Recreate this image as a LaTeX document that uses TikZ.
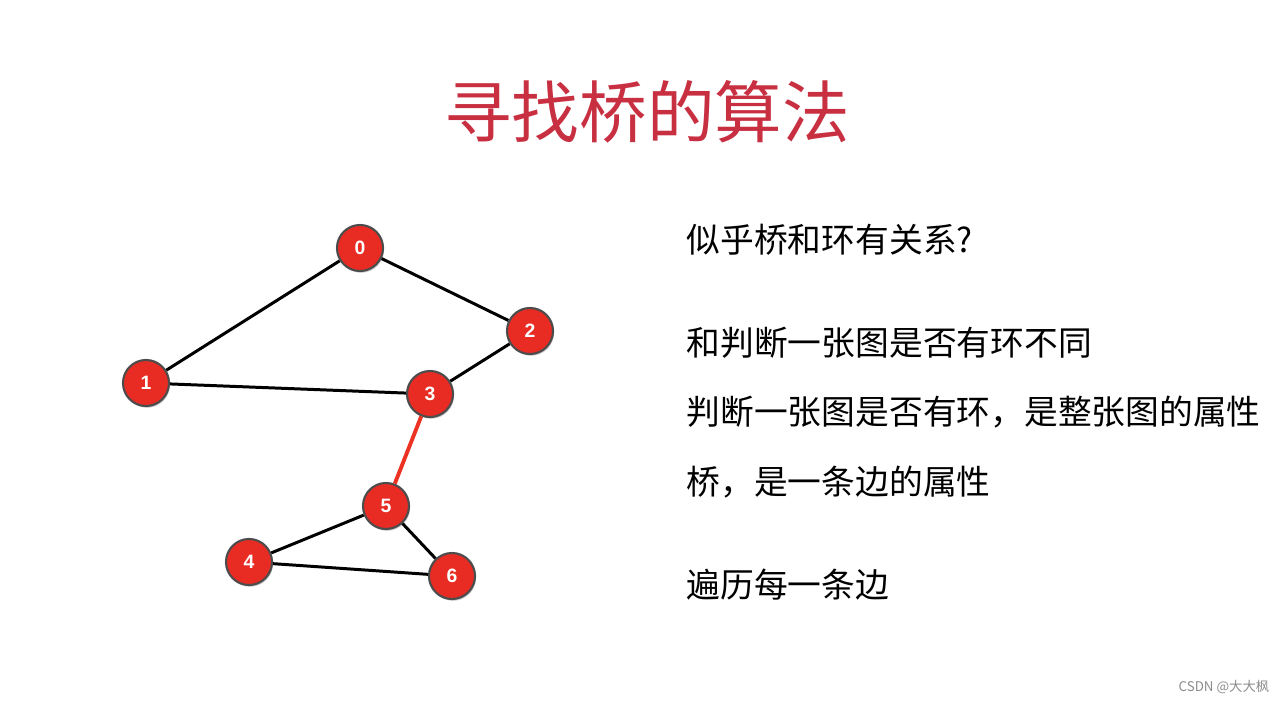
\documentclass[tikz,border=0pt]{standalone}
\usepackage{fontspec}
\setmainfont{Liberation Sans}
\newfontfamily\cjk{Noto Sans CJK SC}
\usetikzlibrary{shadows}
\definecolor{titlered}{RGB}{200,48,66}
\definecolor{nodered}{RGB}{232,44,36}
\definecolor{bridgered}{RGB}{235,50,35}
\tikzset{
  vtx/.style={circle,fill=nodered,draw=black!70,line width=0.6pt,minimum size=0.46cm,inner sep=0pt,
    text=white,font=\bfseries\fontsize{5.5}{6}\selectfont,drop shadow={shadow xshift=0.3pt,shadow yshift=-0.5pt,opacity=0.4}},
  edge/.style={line width=0.85pt,black},
  bridge/.style={line width=1.1pt,bridgered},
  txt/.style={anchor=west,inner sep=0pt,font=\cjk\fontsize{9.6}{11}\selectfont}
}
\begin{document}
\begin{tikzpicture}[x=0.01cm,y=-0.01cm]
\useasboundingbox (0,0) rectangle (1285,703);
\node[font=\cjk\fontsize{19.2}{22}\selectfont,text=titlered] (title) at (647,112) {寻找桥的算法};
\node[vtx] (n0) at (360,248) {0};
\node[vtx] (n1) at (146,383) {1};
\node[vtx] (n2) at (530,331) {2};
\node[vtx] (n3) at (430,394) {3};
\node[vtx] (n5) at (386,506) {5};
\node[vtx] (n4) at (249,562) {4};
\node[vtx] (n6) at (452,576) {6};
\draw[edge] (n0) -- (n1);
\draw[edge] (n0) -- (n2);
\draw[edge] (n1) -- (n3);
\draw[edge] (n2) -- (n3);
\draw[bridge] (n3) -- (n5);
\draw[edge] (n5) -- (n4);
\draw[edge] (n5) -- (n6);
\draw[edge] (n4) -- (n6);
\node[txt] (t1) at (686,240) {似乎桥和环有关系?};
\node[txt] (t2) at (686,343) {和判断一张图是否有环不同};
\node[txt] (t3) at (686,412) {判断一张图是否有环，是整张图的属性};
\node[txt] (t4) at (686,482) {桥，是一条边的属性};
\node[txt] (t5) at (686,585) {遍历每一条边};
\node[anchor=east,inner sep=0pt,text=black!45,font=\cjk\fontsize{3.8}{4}\selectfont] (wm) at (1270,687) {CSDN @大大枫};
\end{tikzpicture}
\end{document}
